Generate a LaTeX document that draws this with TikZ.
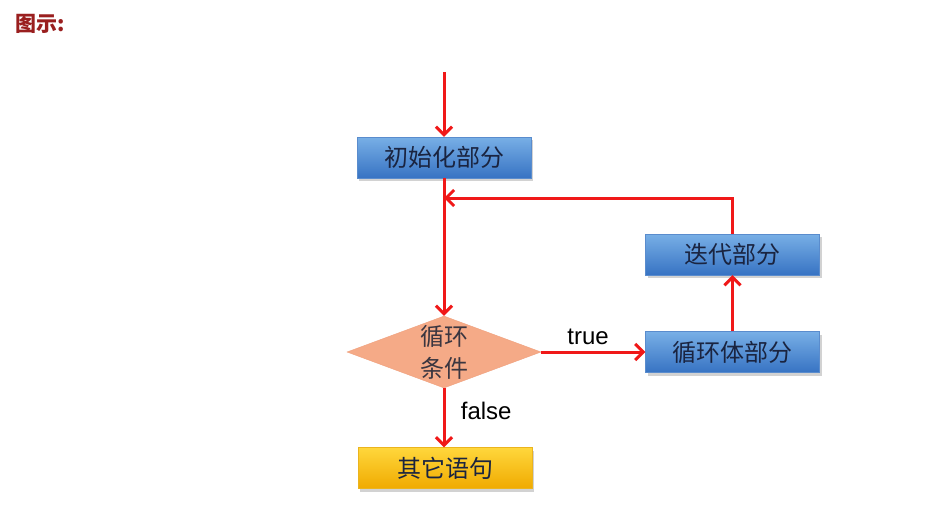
\documentclass[tikz,border=0pt]{standalone}
\usepackage{fontspec}
\setmainfont{Liberation Sans}
\newfontfamily\cjk{Noto Sans CJK SC}
\usetikzlibrary{arrows.meta,shapes.geometric,shadows}
\definecolor{flowred}{HTML}{F01818}
\definecolor{titlered}{HTML}{9A1F1F}
\definecolor{boxtext}{HTML}{1A2440}
\tikzset{
  flow/.style={draw=flowred,line width=3pt,-{Straight Barb[length=8pt,width=16pt,line width=3pt]}},
  bluebox/.style={rectangle,minimum width=174pt,minimum height=41pt,inner sep=0pt,
    shading=axis,top color={rgb,255:red,120;green,175;blue,230},bottom color={rgb,255:red,55;green,115;blue,195},
    draw={rgb,255:red,90;green,140;blue,205},line width=0.4pt,
    drop shadow={shadow xshift=2pt,shadow yshift=-3pt,fill=black!35},
    font=\cjk\fontsize{24}{26}\selectfont, text=boxtext},
  goldbox/.style={bluebox,top color={rgb,255:red,255;green,215;blue,60},bottom color={rgb,255:red,240;green,170;blue,0},
    draw={rgb,255:red,235;green,180;blue,30}},
  cond/.style={diamond,aspect=2.7,minimum width=193pt,minimum height=72pt,inner sep=0pt,
    fill={rgb,255:red,245;green,170;blue,135},draw={rgb,255:red,240;green,160;blue,125},
    font=\cjk\fontsize{24}{32}\selectfont,text=boxtext!80!brown,align=center},
  lbl/.style={font=\fontsize{24}{26}\selectfont,text=black}
}
\begin{document}
\begin{tikzpicture}[x=1pt,y=-1pt]
\useasboundingbox (0,0) rectangle (943,506);
\fill[white] (0,0) rectangle (943,506);
\node[anchor=west,font=\cjk\bfseries\fontsize{21}{24}\selectfont,text=titlered] (title) at (12,24) {图示:};
\node[bluebox] (init) at (444,157.5) {初始化部分};
\node[cond] (c) at (444,352) {循环\\条件};
\node[bluebox] (body) at (732.5,352) {循环体部分};
\node[bluebox] (iter) at (732.5,254.5) {迭代部分};
\node[goldbox] (other) at (445,468) {其它语句};
\coordinate (start) at (444,72);
\coordinate (corner) at (iter.north |- 0,198);
\coordinate (merge) at (init.south |- corner);
\draw[flow] (start) -- (init.north);
\draw[flow] (init.south) -- (c.north);
\draw[flow] (c.east) -- node[lbl,above,pos=0.45,yshift=2pt] (t) {true} (body.west |- c.east);
\draw[flow] (c.south) -- node[lbl,right,pos=0.38,xshift=12pt] (f) {false} (c.south |- other.north);
\draw[flow] (body.north) -- (iter.south);
\draw[flow] (iter.north) -- (corner) -- (merge);
\end{tikzpicture}
\end{document}
